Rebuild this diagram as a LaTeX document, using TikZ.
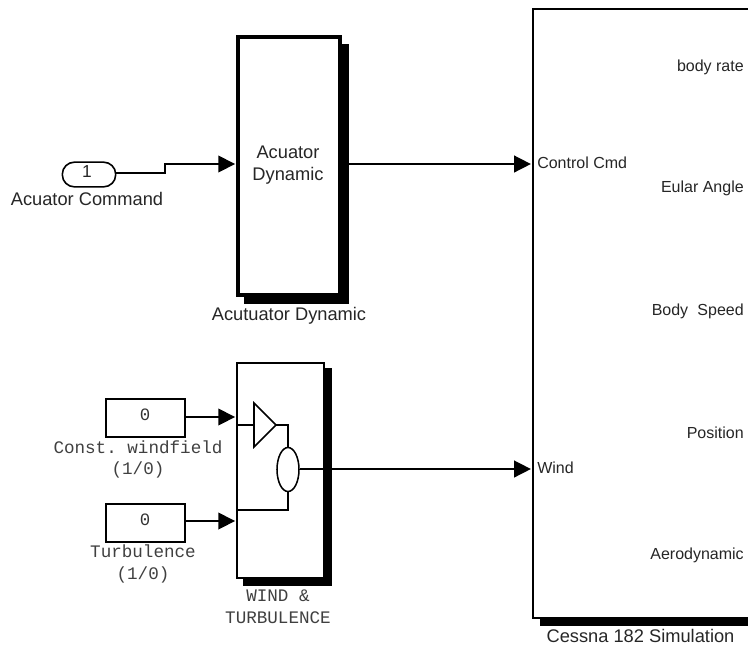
\documentclass[tikz,border=0pt]{standalone}
\usepackage{fontspec}
\setmainfont{Liberation Sans}
\setmonofont{Liberation Mono}
\usetikzlibrary{arrows.meta,shapes.geometric}
\tikzset{
  wire/.style={draw=black,line width=1.15pt},
  sig/.style={wire,-{Triangle[length=12.5pt,width=12.5pt]},shorten >=1pt},
  blockbox/.style={draw=black,fill=white,line width=1.15pt,inner sep=0pt},
  shadowbox/.style={fill=black,draw=none},
  lab/.style={font=\fontsize{13.7}{16.3}\selectfont,inner sep=0pt,align=center,text=black!85},
  portlab/.style={font=\fontsize{12}{14}\selectfont,inner sep=0pt,text=black!85},
  mono/.style={font=\ttfamily\fontsize{13.2}{16.3}\selectfont,inner sep=0pt,align=center,text=black!75},
  zero/.style={font=\ttfamily\fontsize{13}{15}\selectfont,inner sep=0pt,text=black!80},
}
\begin{document}
\begin{tikzpicture}[x=0.75pt,y=-0.75pt]
\useasboundingbox (0,0) rectangle (748,644);
\begin{scope}
\clip (0,0) rectangle (748,644);
% Inport
\node[draw=black,line width=1.2pt,rounded corners=9pt,minimum width=40pt,minimum height=18.5pt,inner sep=0pt] (inp) at (89,174.5) {};
\node[lab,font=\fontsize{13}{15}\selectfont] (inpn) at (87,171.5) {1};
\node[lab] (inpl) at (87,199) {Acuator Command};
% Actuator block
\fill[shadowbox] (244,43.5) rectangle (349,304);
\node[blockbox,line width=2.4pt,minimum width=76.5pt,minimum height=193.5pt] (act) at (289,166) {};
\node[lab] (actt) at (288,165) {Acuator\\Dynamic};
\node[lab] (actl) at (289,315.5) {Acutuator Dynamic};
% Cessna block
\fill[shadowbox] (540,15) rectangle (770,626);
\node[blockbox,minimum width=171pt,minimum height=456.5pt] (ces) at (647,313.5) {};
\node[portlab,anchor=west] (cc) at (537,163) {Control Cmd};
\node[portlab,anchor=west] (wp) at (537,468) {Wind};
\node[portlab,anchor=east] (o1) at (744,67) {body rate};
\node[portlab,anchor=east] (o2) at (744,188) {Eular Angle};
\node[portlab,anchor=east] (o3) at (744,311) {Body\hspace{0.3em} Speed};
\node[portlab,anchor=east] (o4) at (744,433) {Position};
\node[portlab,anchor=east] (o5) at (744,555) {Aerodynamic};
\node[lab] (cesl) at (640.5,635.5) {Cessna 182 Simulation};
% Wind block
\fill[shadowbox] (243,368) rectangle (332,586);
\node[blockbox,minimum width=65pt,minimum height=161pt] (wind) at (280.5,470.5) {};
\node[blockbox,minimum width=59pt,minimum height=28.5pt] (c1) at (145.5,418) {};
\node[zero] (c1t) at (145,415) {0};
\node[mono] (c1l) at (138,459.5) {Const. windfield\\(1/0)};
\node[blockbox,minimum width=59pt,minimum height=28.5pt] (c2) at (145.5,523) {};
\node[zero] (c2t) at (145,520) {0};
\node[mono] (c2l) at (143,564) {Turbulence\\(1/0)};
\node[mono] (wl) at (278,607) {WIND \&\\TURBULENCE};
% wind interior
\coordinate (tri1) at (254,403);
\coordinate (tri2) at (254,447);
\coordinate (trit) at (276,425);
\draw[wire,line join=miter] (tri1) -- (trit) -- (tri2) -- cycle;
\node[draw=black,line width=1.15pt,fill=white,ellipse,minimum width=16.5pt,minimum height=33pt,inner sep=0pt] (sumb) at (288,469.5) {};
\coordinate (w1) at (wind.west |- 0,425);
\coordinate (w2) at (wind.west |- 0,510);
\coordinate (tm) at (254,425);
\draw[wire] (w1) -- (tm);
\draw[wire] (trit) -| (sumb.north);
\draw[wire] (w2) -| (sumb.south);
% connectors
\coordinate (a1) at (act.west |- 0,164);
\coordinate (a2) at (ces.west |- 0,164);
\coordinate (a3) at (ces.west |- 0,469);
\coordinate (a4) at (wind.west |- 0,417);
\coordinate (a5) at (wind.west |- 0,521);
\coordinate (src) at (116,173);
\coordinate (act2) at (349,164);
\draw[sig] (src) -- (165,173) -- (165,164) -- (a1);
\draw[sig] (act2) -- (a2);
\draw[sig] (sumb.east |- a3) -- (a3);
\draw[sig] (c1.east |- a4) -- (a4);
\draw[sig] (c2.east |- a5) -- (a5);
\end{scope}
\end{tikzpicture}
\end{document}
